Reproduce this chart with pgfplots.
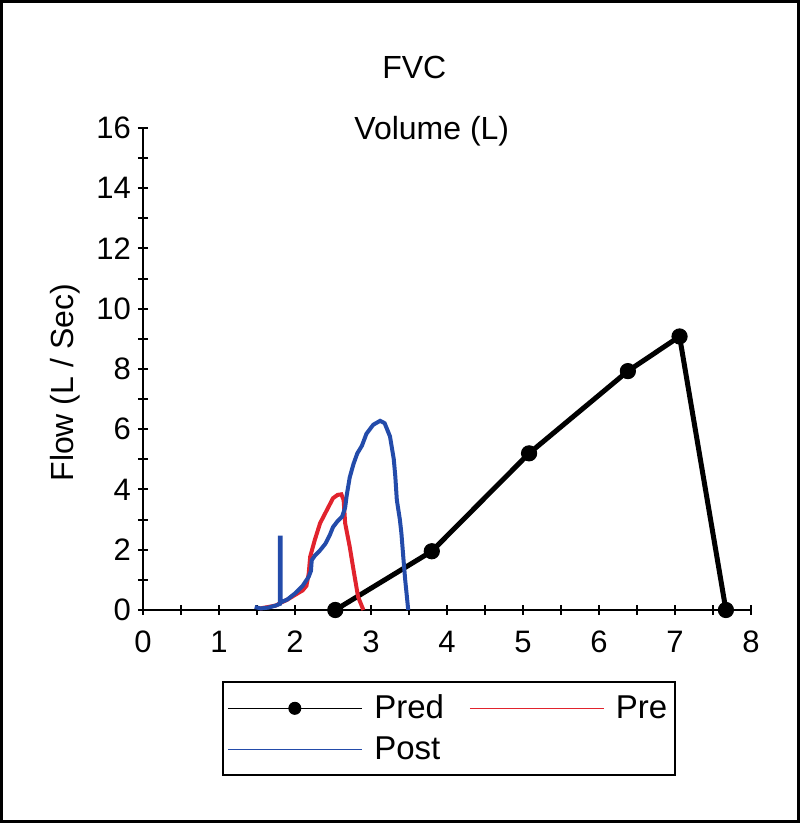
\documentclass[border=0pt]{standalone}
\usepackage{fontspec}
\setmainfont{Liberation Sans}
\usepackage{pgfplots}
\pgfplotsset{compat=1.18}
\definecolor{prered}{RGB}{225,35,45}
\definecolor{postblue}{RGB}{35,75,170}

\begin{document}
\begin{tikzpicture}
\begin{axis}[
    scale only axis,
    width=304pt, height=241pt,
    xmin=0, xmax=8, ymin=0, ymax=16,
    axis lines=left,
    axis line style={line width=1pt,-},
    xtick={0,...,8}, ytick={0,2,...,16},
    minor x tick num=1, minor y tick num=1,
    tick align=center,
    major tick length=5pt, minor tick length=5pt,
    tick style={black, line width=1pt},
    every tick label/.append style={font=\fontsize{15.5}{18}\selectfont},
    xticklabel style={yshift=-4.5pt},
    /pgf/number format/assume math mode=true,
    clip=false,
    legend columns=2,
    legend style={
        at={(axis description cs:0.13,-0.147)}, anchor=north west,
        draw=black, line width=1pt,
        font=\fontsize{16.5}{19}\selectfont,
        inner xsep=2pt, inner ysep=4.5pt, row sep=3.5pt,
        /tikz/every even column/.append style={column sep=10.5pt},
    },
    legend cell align=left,
    legend image code/.code={
        \draw[#1, line width=0.8pt, mark size=3pt, mark repeat=2, mark phase=2]
            plot coordinates {(0pt,0pt) (33.5pt,0pt) (67pt,0pt)};
        \path (70pt,0pt);
    },
]

% predicted
\addplot[black, line width=2.5pt, mark=*, mark size=3.8pt,
         mark options={solid, fill=black, line width=0.5pt}] coordinates {
    (2.53,0) (3.80,1.95) (5.08,5.20) (6.38,7.93) (7.06,9.08) (7.67,0)
};

% pre
\addplot[prered, line width=2pt] coordinates {
    (1.54,0.05) (1.60,0.08) (1.65,0.10) (1.75,0.15) (1.82,0.25) (1.89,0.33)
    (2.00,0.50) (2.10,0.65) (2.15,0.80) (2.18,1.20) (2.20,1.77) (2.26,2.32)
    (2.33,2.88) (2.42,3.32) (2.50,3.71) (2.56,3.82) (2.61,3.84) (2.64,3.65)
    (2.66,2.88) (2.72,2.10) (2.77,1.33) (2.83,0.44) (2.90,0)
};

% post
\addplot[postblue, line width=2pt] coordinates {
    (1.47,0.10) (1.55,0.05) (1.65,0.08) (1.75,0.15) (1.80,0.20) (1.80,2.40)
    (1.81,2.40) (1.81,0.25) (1.90,0.35) (2.00,0.55) (2.10,0.80) (2.18,1.10)
    (2.21,1.30) (2.22,1.65) (2.26,1.80) (2.32,1.95) (2.40,2.20) (2.46,2.50)
    (2.50,2.75) (2.56,2.95) (2.62,3.10) (2.66,3.40) (2.68,3.80) (2.72,4.40)
    (2.77,4.85) (2.82,5.20) (2.88,5.45) (2.94,5.85) (3.03,6.15) (3.12,6.28)
    (3.18,6.20) (3.25,5.76) (3.30,5.00) (3.32,4.43) (3.34,3.65) (3.38,3.00)
    (3.40,2.55) (3.43,1.60) (3.45,1.00) (3.47,0.50) (3.49,0)
};

\legend{Pred, Pre, Post}

\node[font=\fontsize{16}{18}\selectfont] at (axis cs:3.57,18.0) {FVC};
\node[font=\fontsize{16}{18}\selectfont] at (axis cs:3.80,15.9) {Volume (L)};
\node[font=\fontsize{16}{18}\selectfont, rotate=90] at (axis cs:-1.03,7.54) {Flow (L / Sec)};
\end{axis}
\draw[line width=1.5pt] (-70.75pt,-105.75pt) rectangle (327.75pt,304.25pt);
\end{tikzpicture}
\end{document}
